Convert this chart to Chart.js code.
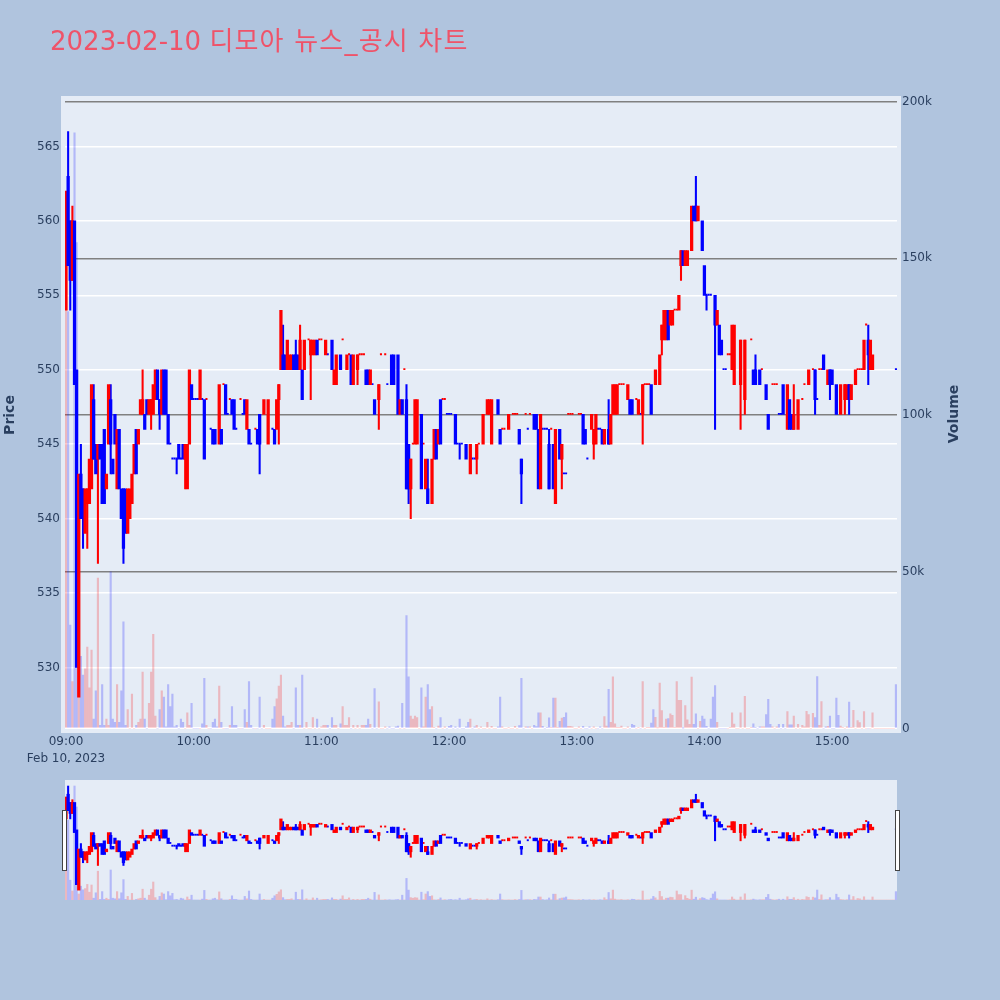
<!DOCTYPE html>
<html>
<head>
<meta charset="utf-8">
<script src="https://cdn.jsdelivr.net/npm/chart.js@4"></script>
<style>
  body { margin: 0; background: #b0c4de; }
  canvas { position: absolute; left: 0; }
  #main { top: 0; }
  #slider { top: 770px; }
  #title { position: absolute; left: 50px; top: 26px; font: 26px/30px "DejaVu Sans", "Noto Sans CJK KR", sans-serif; color: #ef5369; white-space: pre; }
  #title span { letter-spacing: 1.2px; }
</style>
</head>
<body>
<canvas id="main" width="1000" height="770"></canvas>
<canvas id="slider" width="1000" height="140"></canvas>
<div id="title">2023-02-10 <span>디모아 뉴스_공시 차트</span></div>
<script>
const n = null;

// one row per 10 minutes, index 0 = 09:00
const opens = [
  554,563,560,556,560,550,528,543,542,539,
  541,541,542,548,545,544,545,545,546,542,
  545,548,544,547,542,546,542,542,542,539,
  540,541,543,546,545,547,547,547,548,547,
  547,547,548,550,548,547,550,550,547,545,
  544,544,544,545,544,545,544,542,545,549,
  548,548,548,548,548,548,548,n,546,546,
  546,n,545,546,549,549,547,548,548,548,
  546,n,548,547,548,546,546,545,n,546,
  546,547,n,547,n,545,n,546,546,546,
  548,550,551,551,550,550,550,551,551,551,
  550,550,550,n,552,551,551,551,552,552,
  552,n,551,551,n,552,549,549,n,551,
  552,n,550,551,551,549,n,550,551,551,
  551,550,550,549,549,548,n,548,551,n,
  551,549,n,551,551,n,551,547,548,550,
  548,545,542,545,545,545,n,547,545,542,
  542,n,541,544,546,545,548,548,548,547,
  547,547,n,547,545,545,545,n,545,n,
  543,544,544,544,545,n,545,n,547,547,
  545,n,n,548,546,546,546,n,546,n,
  547,547,547,546,544,n,547,546,547,n,
  547,547,546,542,546,546,546,545,546,545,
  541,n,546,544,543,543,547,547,547,n,
  n,547,547,547,546,544,n,546,545,545,
  546,546,546,545,n,546,545,547,547,547,
  549,549,549,n,548,548,548,n,548,547,
  547,547,549,549,549,549,n,549,n,549,
  552,552,552,554,553,553,554,554,554,557,
  558,557,557,n,558,561,561,560,n,560,
  557,555,555,555,n,555,553,553,552,550,
  550,551,551,550,549,n,n,549,n,548,
  n,n,552,550,550,n,550,550,n,549,
  547,n,549,549,549,547,547,549,n,546,
  548,547,546,n,546,n,548,549,n,549,
  n,550,550,548,550,550,551,n,549,550,
  550,n,549,n,547,n,548,548,549,548,
  n,549,550,550,550,550,553,552,550,550,
  n,n,n,n,n,n,n,n,n,n,
  550
];
const closes = [
  562,557,556,560,549,530,543,540,540,542,
  542,544,549,544,543,545,544,541,541,543,
  549,545,543,545,546,542,540,538,539,542,
  542,543,545,543,546,548,548,546,547,548,
  548,549,550,548,547,550,547,547,545,545,
  544,544,544,544,544,544,545,545,550,548,
  548,548,548,550,548,544,548,n,546,545,
  545,n,549,545,549,547,547,548,547,546,
  546,n,548,547,547,548,545,545,n,546,
  545,545,n,548,n,548,n,546,545,548,
  549,554,550,550,552,551,551,550,550,550,
  552,548,552,n,552,552,552,552,551,552,
  552,n,552,551,n,550,550,551,n,550,
  552,n,551,551,549,551,n,551,551,551,
  551,549,549,550,549,547,n,549,551,n,
  551,549,n,549,549,n,547,548,547,550,
  542,542,544,545,548,548,n,542,545,544,
  541,n,544,546,544,546,545,548,548,547,
  547,547,n,545,545,545,545,n,544,n,
  545,544,544,545,545,n,547,n,548,548,
  548,n,n,547,545,546,546,n,547,n,
  547,547,547,545,543,n,547,546,547,n,
  546,546,542,547,546,546,546,542,546,542,
  546,n,544,545,543,543,547,547,547,n,
  n,547,547,545,545,544,n,547,546,547,
  546,546,545,546,n,545,547,549,549,549,
  549,549,549,n,549,547,547,n,548,548,
  547,549,549,549,549,547,n,550,n,551,
  553,554,554,552,554,554,554,554,555,558,
  557,558,558,n,561,560,560,561,n,558,
  555,555,555,555,n,553,554,551,551,550,
  550,551,551,553,553,n,n,552,n,552,
  n,n,552,549,549,n,549,550,n,548,
  546,n,549,549,549,547,547,547,n,549,
  546,546,547,n,548,n,548,549,n,550,
  n,550,548,548,550,550,550,n,550,549,
  549,n,547,n,549,n,549,549,548,549,
  n,550,550,550,550,552,553,551,552,551,
  n,n,n,n,n,n,n,n,n,n,
  550
];

// only the minutes whose high/low stick out past the body
const wickMinutes = [1,2,3,7,8,10,13,15,21,27,36,40,44,52,56,91,100,102,108,110,115,137,147,160,161,162,170,185,193,214,227,233,248,255,271,280,289,296,301,305,317,319,324,342,352,359,366,368,377];
const wickHighs = [566,560,561,545,542,542,549,545,549,542,550,548,548,544,545,547,549,553,552,553,552,551,549,549,545,544,544,545,545,544,546,545,546,548,549,553,558,563,555,555,552,552,551,549,550,550,549,549,553];
const wickLows = [557,554,556,540,538,538,544,537,543,537,547,546,546,543,542,543,545,550,550,550,548,549,546,542,541,540,541,544,543,541,542,542,544,545,545,551,556,560,554,546,546,547,549,546,547,548,547,547,549];

// volume in thousands
const volumes = [
  147,133,33,15,190,155,10,23,17,19,
  26,13,25,3,12,48,1,14,1,3,
  1,50,3,2,14,2,12,34,1,6,
  0,11,0,1,2,3,18,3,0,8,
  18,30,4,0,6,12,10,0.5,14,7,
  11,0.5,1,0,3,2,0,5,1,8,
  0,0,0,0,1.5,16,1,0,0,2,
  3,0.5,13.5,2,0,0,0,1,7,1,
  1,0,0,0,6,2,15,1,0,0,
  0,10,0,1,0,0,0,3,7,9.5,
  13.5,17,4,0.5,1,1,2,0,13,1,
  1,17,0,2,0,0,3.5,0,3,0,
  0.5,1,1,1,0,3.5,1,1,0,1.5,
  7,1,1,3.5,0,1,0,1,0,1,
  1,1,3,1.3,0,12.7,0,8.5,0,0,
  0.5,0,0.5,0,0,0.5,0.8,0,8,0,
  36,16.5,4,3,4,3.5,0,13,0.5,10,
  14,6,7,0.3,0,0.8,3.5,0,0.5,0,
  0.7,1,0,0.5,0,3,0,0,0.5,2,
  3,0,0.5,1,0,0.5,0,0,2,0,
  0.7,0,0,0.5,10,0.5,0,0,0.3,0,
  0,0.7,0,0.9,16,0,0.5,0.5,0.5,0,
  1,0.6,5,5,0.7,0,0.4,3.4,0.4,9.7,
  9.7,0.3,2.3,3.3,3.6,5,0.7,0.7,0.5,0,
  0,0.5,0,0.7,0,0,0.5,0,0.5,0,
  0,0.5,0,3.8,0.8,12.5,2,16.5,1.5,0.3,
  0.3,0.8,0,0,0.5,0,1.3,1,0,0.4,
  0,15,0,0.4,0.4,1.7,6,3.6,0.2,14.5,
  5.7,0.4,3,3.2,4.7,4.2,0.3,15,9,9,
  0.1,7.3,2.8,1.3,16.4,1.3,4.7,0,2.3,4,
  3,0.7,0,3,10,13.7,2,0,0,0,
  0,0,0.3,5,1.4,0,0,5,0,10.3,
  0,0,0.4,1.5,0.4,0,0.5,0.5,0.5,4.4,
  9.3,1.3,0.5,0,0.5,1.3,0,1.3,0,5.4,
  1.2,1.2,4,0,1.3,0,1,0.5,5.5,4.4,
  0,4.8,3.5,16.6,1,8.6,0,0.5,0.7,4,
  0,0,9.7,4.2,0.8,0.4,0,0.5,8.4,0.4,
  5.8,0,2.5,1.9,0,5.4,0,0,0,5,
  0,0,0,0,0,0,0,0,0,0,
  14
];
const volumeTicks = [0, 50, 100, 150, 200];

const RED = '#ff0000';
const BLUE = '#0000ff';
const RED_VOL = 'rgba(255,0,0,0.22)';
const BLUE_VOL = 'rgba(0,0,255,0.22)';
const INK = '#2a3f5f';
const PLOT_BG = '#e5ecf6';
const FONT = '"DejaVu Sans", "Noto Sans CJK KR", sans-serif';

// same rule plotly uses: a doji takes its direction from the previous close
const rising = [];
let lastClose = null, lastUp = true;
opens.forEach((o, i) => {
  const c = closes[i];
  if (o === null) { rising.push(lastUp); return; }
  let up = lastUp;
  if (c !== o) up = c > o;
  else if (lastClose !== null && c !== lastClose) up = c > lastClose;
  rising.push(up);
  lastUp = up;
  lastClose = c;
});

function candleDatasets() {
  const bodies = [], bodyColors = [], dojis = [], dojiColors = [];
  opens.forEach((o, i) => {
    if (o === null) return;
    const color = rising[i] ? RED : BLUE;
    if (o === closes[i]) {
      dojis.push({ x: i, y: [o, closes[i]] });
      dojiColors.push(color);
    } else {
      bodies.push({ x: i, y: [o, closes[i]] });
      bodyColors.push(color);
    }
  });
  const wicks = wickMinutes.map((m, k) => ({ x: m, y: [wickLows[k], wickHighs[k]] }));
  const wickColors = wickMinutes.map(m => rising[m] ? RED : BLUE);
  const vols = volumes.map((v, i) => ({ x: i, y: v }));
  const volColors = volumes.map((v, i) => rising[i] ? RED_VOL : BLUE_VOL);
  return [
    { data: vols, yAxisID: 'y2', backgroundColor: volColors, barThickness: 1.5, order: 4 },
    { data: wicks, yAxisID: 'y', backgroundColor: wickColors, barThickness: 1.4, order: 3 },
    { data: dojis, yAxisID: 'y', backgroundColor: dojiColors, barThickness: 1.4, minBarLength: 1.2, order: 2 },
    { data: bodies, yAxisID: 'y', backgroundColor: bodyColors, barThickness: 2.6, order: 1 },
  ];
}

function timeLabel(v) {
  const h = 9 + v / 60;
  const label = String(h).padStart(2, '0') + ':00';
  return v === 0 ? [label, 'Feb 10, 2023'] : label;
}

const mainDecor = {
  id: 'mainDecor',
  beforeDraw(chart) {
    const ctx = chart.ctx;
    ctx.save();
    ctx.fillStyle = PLOT_BG;
    ctx.fillRect(61, 96, 840, 637);
    ctx.restore();
  },
  afterDraw(chart) {
    const ctx = chart.ctx;
    ctx.save();
    ctx.fillStyle = INK;
    ctx.font = 'bold 14px ' + FONT;
    ctx.translate(954, 414);
    ctx.rotate(-Math.PI / 2);
    ctx.textAlign = 'center';
    ctx.textBaseline = 'middle';
    ctx.fillText('Volume', 0, 0);
    ctx.restore();
  }
};

new Chart(document.getElementById('main'), {
  type: 'bar',
  data: { datasets: candleDatasets() },
  plugins: [mainDecor],
  options: {
    responsive: false,
    animation: false,
    layout: { padding: { top: 100.5 } },
    plugins: { legend: { display: false }, tooltip: { enabled: false } },
    datasets: { bar: { grouped: false } },
    scales: {
      x: {
        type: 'linear',
        offset: false,
        min: -0.47,
        max: 390.5,
        afterFit: s => { s.height = 40.5; },
        grid: { display: false, drawTicks: false },
        border: { display: false },
        ticks: {
          stepSize: 60,
          includeBounds: false,
          autoSkip: false,
          maxRotation: 0,
          color: INK,
          padding: 4,
          font: { family: FONT, size: 12, lineHeight: 1.4 },
          callback: timeLabel
        }
      },
      y: {
        position: 'left',
        min: 525.835,
        max: 568.09,
        afterFit: s => { s.width = 65; },
        grid: { color: '#ffffff', lineWidth: 1.5, drawTicks: false },
        border: { display: false },
        title: { display: true, text: 'Price', color: INK, padding: { top: 2, bottom: 0 }, font: { family: FONT, size: 14, weight: 'bold' } },
        ticks: { stepSize: 5, includeBounds: false, color: INK, padding: 5, font: { family: FONT, size: 12 } }
      },
      y2: {
        position: 'right',
        min: -0.32,
        max: 200.32,
        afterFit: s => { s.width = 103; },
        afterBuildTicks: s => { s.ticks = volumeTicks.map(value => ({ value })); },
        grid: {
          drawTicks: false,
          color: c => c.tick.value === 0 ? '#ffffff' : '#808080',
          lineWidth: c => c.tick.value === 0 ? 2 : 1.5
        },
        border: { display: false },
        ticks: {
          color: INK,
          padding: 5,
          font: { family: FONT, size: 12 },
          callback: v => v === 0 ? '0' : v + 'k'
        }
      }
    }
  }
});

const sliderDecor = {
  id: 'sliderDecor',
  beforeDraw(chart) {
    const a = chart.chartArea;
    chart.ctx.save();
    chart.ctx.fillStyle = PLOT_BG;
    chart.ctx.fillRect(a.left, a.top, a.width, a.height);
    chart.ctx.restore();
  },
  afterDraw(chart) {
    const ctx = chart.ctx;
    ctx.save();
    ctx.fillStyle = '#ffffff';
    ctx.strokeStyle = '#444444';
    ctx.lineWidth = 1;
    [62.5, 895.5].forEach(x => {
      ctx.fillRect(x, 40.5, 4, 60);
      ctx.strokeRect(x, 40.5, 4, 60);
    });
    ctx.restore();
  }
};

new Chart(document.getElementById('slider'), {
  type: 'bar',
  data: { datasets: candleDatasets() },
  plugins: [sliderDecor],
  options: {
    responsive: false,
    animation: false,
    layout: { padding: { left: 65, right: 103, top: 10, bottom: 10 } },
    plugins: { legend: { display: false }, tooltip: { enabled: false } },
    datasets: { bar: { grouped: false } },
    scales: {
      x: { type: 'linear', offset: false, min: -0.47, max: 390.5, display: false },
      y: { min: 524.4, max: 568.2, display: false },
      y2: { min: 0, max: 200, display: false }
    }
  }
});
</script>
</body>
</html>
